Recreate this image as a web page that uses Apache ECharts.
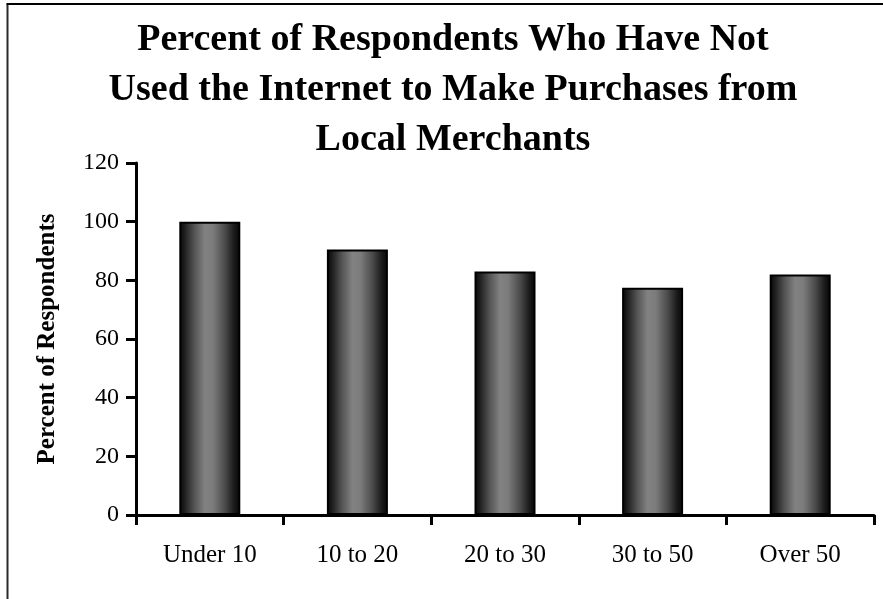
<!DOCTYPE html>
<html>
<head>
<meta charset="utf-8">
<style>
  html, body { margin: 0; padding: 0; background: #fff; }
  #chart { width: 883px; height: 599px; }
</style>
<script src="https://cdn.jsdelivr.net/npm/echarts@6/dist/echarts.min.js"></script>
</head>
<body>
<div id="chart"></div>
<script>
// Age groups surveyed and share of respondents with no online local purchases
const categories = ['Under 10', '10 to 20', '20 to 30', '30 to 50', 'Over 50'];
const percentNotUsed = [100, 90.5, 83, 77.5, 82];
const titleLines = [
  'Percent of Respondents Who Have Not',
  'Used the Internet to Make Purchases from',
  'Local Merchants'
];
const yAxisTitle = 'Percent of Respondents';

const serif = '"Liberation Serif", "Times New Roman", serif';

// Cylinder-like shading across each bar
const barFill = new echarts.graphic.LinearGradient(0, 0, 1, 0, [
  { offset: 0, color: '#050505' },
  { offset: 0.08, color: '#1c1c1c' },
  { offset: 0.25, color: '#555555' },
  { offset: 0.42, color: '#828282' },
  { offset: 0.55, color: '#7c7c7c' },
  { offset: 0.75, color: '#4a4a4a' },
  { offset: 0.9, color: '#1a1a1a' },
  { offset: 1, color: '#050505' }
]);

const chart = echarts.init(document.getElementById('chart'), null, { renderer: 'canvas' });

chart.setOption({
  backgroundColor: '#ffffff',
  animation: false,
  title: {
    text: titleLines.join('\n'),
    left: 453,
    top: 15,
    padding: 0,
    textAlign: 'center',
    textStyle: {
      fontFamily: serif,
      fontWeight: 'bold',
      fontSize: 38,
      lineHeight: 50,
      color: '#000'
    }
  },
  grid: {
    left: 136,
    right: 9,
    top: 163,
    bottom: 84,
    containLabel: false
  },
  xAxis: {
    type: 'category',
    data: categories,
    boundaryGap: true,
    axisLine: { lineStyle: { color: '#000', width: 3 } },
    axisTick: {
      show: true,
      alignWithLabel: false,
      length: 10,
      inside: false,
      lineStyle: { color: '#000', width: 3 }
    },
    axisLabel: {
      margin: 28,
      fontFamily: serif,
      fontSize: 25,
      color: '#000'
    }
  },
  yAxis: {
    type: 'value',
    min: 0,
    max: 120,
    interval: 20,
    name: yAxisTitle,
    nameLocation: 'middle',
    nameGap: 76,
    nameRotate: 90,
    nameTextStyle: {
      fontFamily: serif,
      fontWeight: 'bold',
      fontSize: 25,
      color: '#000'
    },
    axisLine: { show: true, lineStyle: { color: '#000', width: 3 } },
    axisTick: {
      show: true,
      length: 10,
      lineStyle: { color: '#000', width: 3 }
    },
    axisLabel: {
      margin: 17,
      fontFamily: serif,
      fontSize: 24,
      color: '#000'
    },
    splitLine: { show: false }
  },
  series: [{
    type: 'bar',
    data: percentNotUsed,
    barWidth: 61,
    itemStyle: {
      color: barFill,
      borderColor: '#000',
      borderWidth: 2
    },
    emphasis: { disabled: true }
  }],
  graphic: [
    {
      type: 'line',
      shape: { x1: 7.5, y1: 4, x2: 7.5, y2: 599 },
      style: { stroke: '#2a2a2a', lineWidth: 2 }
    },
    {
      type: 'line',
      shape: { x1: 6.5, y1: 4, x2: 883, y2: 4 },
      style: { stroke: '#000', lineWidth: 2 }
    }
  ]
});
</script>
</body>
</html>
